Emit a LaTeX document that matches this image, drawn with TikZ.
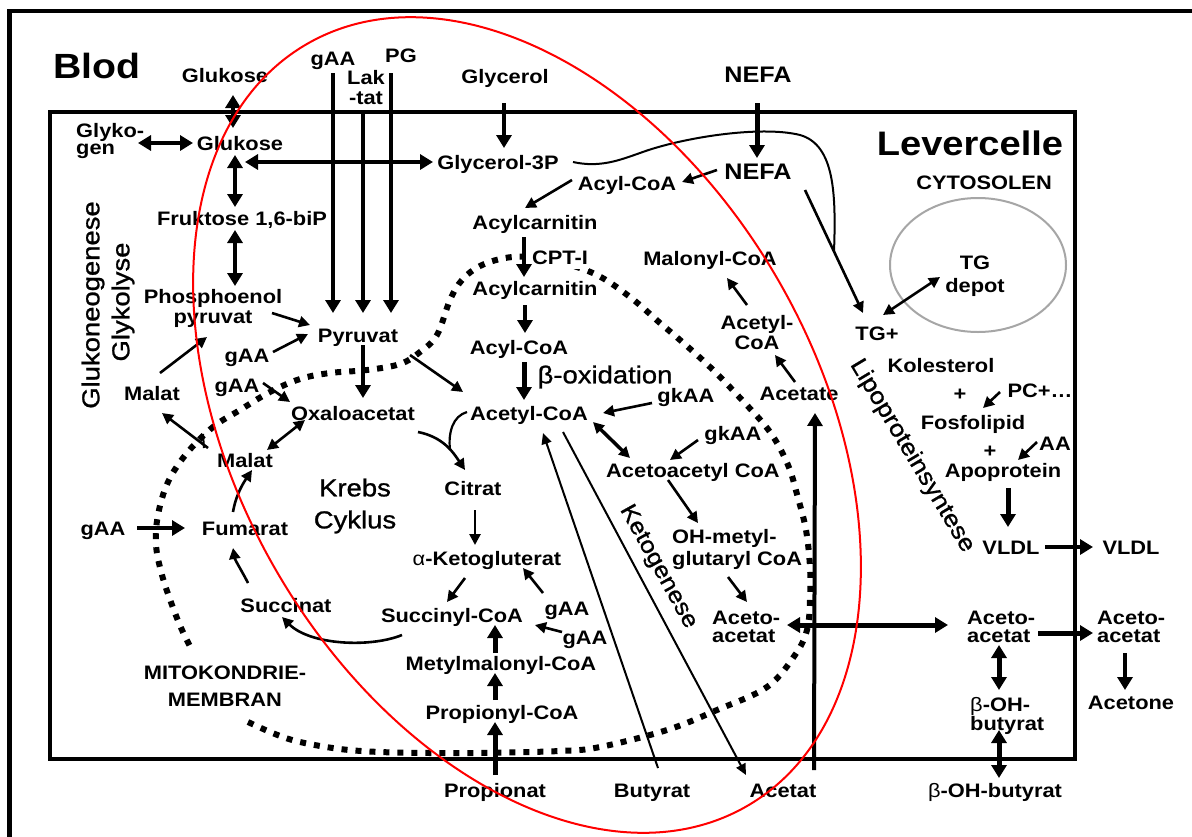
\documentclass[tikz,border=0pt]{standalone}
\usepackage{fontspec}
\setmainfont{Liberation Sans}[FakeStretch=1.12]
\newfontfamily\rgfont{Liberation Sans}[FakeStretch=1.12, FakeBold=1.0]
\usetikzlibrary{arrows.meta}
\newcommand\lbf[1]{\bfseries\fontsize{19.5}{#1}\selectfont}

\begin{document}
\begin{tikzpicture}[x=1pt,y=-1pt,
  lbl/.style={inner sep=0pt, text height=14pt, text depth=4pt, font=\lbf{18}},
  mlbl/.style={inner sep=0pt, font=\lbf{#1}},
  big/.style={inner sep=0pt, font=\rgfont\fontsize{#1}{#1}\selectfont},
  bigb/.style={inner sep=0pt, font=\bfseries\fontsize{#1}{#1}\selectfont},
  thk/.style={line width=4.5pt, -{Triangle[length=13pt,width=15pt]}},
  thkd/.style={line width=4.5pt, {Triangle[length=13pt,width=15pt]}-{Triangle[length=13pt,width=15pt]}},
  med/.style={line width=2.6pt, -{Triangle[length=11pt,width=11pt]}},
  medd/.style={line width=2.6pt, {Triangle[length=11pt,width=11pt]}-{Triangle[length=11pt,width=11pt]}},
  thn/.style={line width=2pt, -{Triangle[length=11pt,width=10pt]}},
  membrane/.style={line width=6pt, dash pattern=on 6pt off 8pt},
]
\useasboundingbox (0,0) rectangle (1192,836);
\fill[white] (0,0) rectangle (1192,836);

% frames: blood (outer) and liver cell (inner)
\draw[line width=4.5pt] (9.5,845) -- (9.5,11) -- (1200,11);
\draw[line width=4pt] (50,112) rectangle (1075,759);

% mitochondrial membrane
\draw[membrane] plot[smooth, tension=0.6] coordinates {
  (248,722) (275,734) (300,742) (340,749) (380,752) (430,753) (480,753)
  (560,751) (600,747) (667,730) (717,710) (767,687) (795,655) (807,630)
  (810,600) (810,567) (806,530) (798,498) (788,465) (770,432) (742,400)
  (710,367) (680,340) (660,323) (630,297) (597,275) (560,262) (530,257)
  (505,258) (480,266) (462,280) (450,300) (437,335) (420,352) (400,364)
  (367,370) (330,373) (300,379) (270,392) (240,410) (213,427) (187,453)
  (168,482) (158,515) (156,545) (162,575) (172,605) (182,630) (193,652)};

% TG depot
\draw[gray!70, line width=2pt] (978,265) ellipse [x radius=88, y radius=67];

% titles
\node[bigb=35, anchor=base west] (blod) at (53,78) {Blod};
\node[bigb=34, anchor=base] (lever) at (970,155) {Levercelle};
\node[lbl] (cyto) at (984,184) {CYTOSOLEN};
\node[big=24.5, rotate=90] (glneo) at (93,305) {Glukoneogenese};
\node[big=24.5, rotate=90] (glyko) at (123,302) {Glykolyse};
\node[big=23.5, rotate=-59] (lipo) at (912,456) {Lipoproteinsyntese};
\node[big=23, rotate=-61] (keto) at (658,567) {Ketogenese};
\node[inner sep=0pt, align=center, font=\rgfont\fontsize{24.5}{32}\selectfont] (krebs) at (355,506) {Krebs\\Cyklus};
\node[mlbl=27, align=center] (mito) at (225,686) {MITOKONDRIE-\\MEMBRAN};

% glucose / gluconeogenesis
\node[lbl] (gluB) at (225,77) {Glukose};
\node[lbl] (glu) at (240,145) {Glukose};
\node[mlbl=17, align=left, anchor=west] (glyk) at (76,140.5) {Glyko-\\gen};
\node[lbl] (fru) at (242,220) {Fruktose 1,6-biP};
\node[mlbl=20, align=center] (pep) at (213,308) {Phosphoenol\\pyruvat};
\node[lbl] (pyr) at (358,337) {Pyruvat};
\node[lbl] (gaa1) at (247,357) {gAA};
\node[lbl] (gaa2) at (237,387) {gAA};
\node[lbl] (malL) at (152,395) {Malat};
\node[lbl] (malI) at (245,462) {Malat};
\node[lbl] (oxa) at (353,415) {Oxaloacetat};
\node[lbl] (gaaT) at (333,60) {gAA};
\node[mlbl=20, align=center] (lak) at (366,88) {Lak\\-tat};
\node[lbl] (pg) at (401,57) {PG};

% fatty acids
\node[lbl] (glyc) at (505,78) {Glycerol};
\node[lbl] (g3p) at (498,164) {Glycerol-3P};
\node[bigb=22.5] (nefaB) at (758,75) {NEFA};
\node[bigb=22.5] (nefa) at (758,172) {NEFA};
\node[lbl] (acyl1) at (627,185) {Acyl-CoA};
\node[lbl] (acar1) at (535,224) {Acylcarnitin};
\node[lbl, fill=white, inner sep=1pt] (cpt) at (560,259) {CPT-I};
\node[lbl] (acar2) at (535,290) {Acylcarnitin};
\node[lbl] (acyl2) at (519,349) {Acyl-CoA};
\node[big=24.5] (boxi) at (605,377) {β-oxidation};
\node[lbl] (acc) at (529,415) {Acetyl-CoA};
\node[lbl] (gk1) at (686,397) {gkAA};
\node[lbl] (gk2) at (733,435) {gkAA};
\node[lbl] (aacoa) at (693,472) {Acetoacetyl CoA};
\node[mlbl=22, align=left, anchor=west] (hmg) at (672,549) {OH-metyl-\\glutaryl CoA};
\node[mlbl=18, align=left, anchor=west] (aacM) at (712,627) {Aceto-\\acetat};
\node[lbl] (acetate) at (799,395) {Acetate};
\node[mlbl=20, align=center] (acc2) at (757,333) {Acetyl-\\CoA};
\node[lbl] (malo) at (710,260) {Malonyl-CoA};

% lipoprotein synthesis
\node[lbl] (tg) at (877,335) {TG+};
\node[mlbl=23, align=center] (tgd) at (975,276) {TG\\depot};
\node[lbl] (kol) at (941,367) {Kolesterol};
\node[lbl] (p1) at (960,395) {+};
\node[lbl] (pc) at (1040,392) {PC+…};
\node[lbl] (fos) at (973,424) {Fosfolipid};
\node[lbl] (p2) at (990,452) {+};
\node[lbl] (aa) at (1055,445) {AA};
\node[lbl] (apo) at (1003,472) {Apoprotein};
\node[lbl] (vl1) at (1011,549) {VLDL};
\node[lbl] (vl2) at (1131,549) {VLDL};

% Krebs cycle
\node[lbl] (cit) at (473,490) {Citrat};
\node[lbl] (akg) at (487,560) {{\mdseries α}-Ketogluterat};
\node[lbl] (sucoa) at (452,617) {Succinyl-CoA};
\node[lbl] (suc) at (286,607) {Succinat};
\node[lbl] (fum) at (245,530) {Fumarat};
\node[lbl] (gaaL) at (103,530) {gAA};
\node[lbl] (gaa3) at (567,610) {gAA};
\node[lbl] (gaa4) at (585,639) {gAA};
\node[lbl] (mmcoa) at (501,665) {Metylmalonyl-CoA};
\node[lbl] (prcoa) at (502,714) {Propionyl-CoA};

% blood side, bottom
\node[lbl] (prop) at (495,792) {Propionat};
\node[lbl] (but) at (652,792) {Butyrat};
\node[lbl] (acet) at (783,792) {Acetat};
\node[lbl] (bhb) at (995,792) {{\mdseries β}-OH-butyrat};
\node[mlbl=18, align=left, anchor=west] (bhbI) at (970,716) {{\mdseries β}-OH-\\butyrat};
\node[mlbl=18, align=left, anchor=west] (aacC) at (967,627) {Aceto-\\acetat};
\node[mlbl=18, align=left, anchor=west] (aacO) at (1097,627) {Aceto-\\acetat};
\node[lbl] (acetone) at (1131,704) {Acetone};

% ---- connectors ----
% glucose axis
\draw[thkd] ([shift={(8,18)}]gluB.center) -- ([shift={(-7,-17)}]glu.center);
\draw[thkd, line width=3.5pt] ([shift={(62,2.5)}]glyk.west) -- ([shift={(-47,-2)}]glu.center);
\draw[thkd, line width=3.5pt] ([shift={(5,17)}]glu.center) -- ([shift={(-65,-2)}]g3p.center);
\draw[thkd] ([shift={(-5,10)}]glu.center) -- ([shift={(-7,-13)}]fru.center);
\draw[thkd] ([shift={(-7,10)}]fru.center) -- ([shift={(22,-22)}]pep.center);

% into pyruvate
\draw[thk, line width=4pt] ([shift={(0,13)}]gaaT.center) -- ([shift={(-25,-24)}]pyr.center);
\draw[thk, line width=4pt] ([shift={(-3,24)}]lak.center) -- ([shift={(5,-24)}]pyr.center);
\draw[thk, line width=4pt] ([shift={(-10,16)}]pg.center) -- ([shift={(33,-24)}]pyr.center);
\draw[med] ([shift={(59,5)}]pep.center) -- ([shift={(-48,-12)}]pyr.center);
\draw[med] ([shift={(26,-5)}]gaa1.center) -- ([shift={(-50,-3)}]pyr.center);
\draw[med] ([shift={(26,-4)}]gaa2.center) -- ([shift={(-63,-13)}]oxa.center);
\draw[med] ([shift={(8,-22)}]malL.center) -- ([shift={(-6,29)}]pep.center);
\draw[med] ([shift={(-37,-14)}]malI.center) -- ([shift={(10,18)}]malL.center);
\draw[line width=2pt] ([shift={(-42,-28)}]malI.center) -- ([shift={(-41,-14)}]malI.center);
\draw[medd] ([shift={(22,-12)}]malI.center) -- ([shift={(-48,5)}]oxa.center);
\draw[thk, line width=4pt] ([shift={(5,8)}]pyr.center) -- ([shift={(10,-17)}]oxa.center);
\draw[med] ([shift={(52,18)}]pyr.center) -- ([shift={(-66,-23)}]acc.center);

% fatty acid oxidation
\draw[thk, line width=4pt] ([shift={(-1,25)}]glyc.center) -- ([shift={(6,-16)}]g3p.center);
\draw[thk, line width=5pt] ([shift={(-1,28)}]nefaB.center) -- ([shift={(-1,-14)}]nefa.center);
\draw[med] ([shift={(-41,-2)}]nefa.center) -- ([shift={(55,-3)}]acyl1.center);
\draw[med] ([shift={(-55,-5)}]acyl1.center) -- ([shift={(-10,-16)}]acar1.center);
\draw[thk, line width=4pt] ([shift={(-11,13)}]acar1.center) -- ([shift={(-11,-13)}]acar2.center);
\draw[thk, line width=4pt] ([shift={(-10,15)}]acar2.center) -- ([shift={(6,-16)}]acyl2.center);
\draw[thk, line width=5pt] ([shift={(5,13)}]acyl2.center) -- ([shift={(-5,-15)}]acc.center);
\draw[med] ([shift={(-34,6)}]gk1.center) -- ([shift={(74,-2)}]acc.center);
\draw[medd, line width=3.5pt] ([shift={(64,7)}]acc.center) -- ([shift={(-63,-14)}]aacoa.center);
\draw[med] ([shift={(-35,5)}]gk2.center) -- ([shift={(-23,-12)}]aacoa.center);
\draw[med] ([shift={(-25,8)}]aacoa.center) -- ([shift={(26,-26)}]hmg.west);
\draw[med] ([shift={(56,28)}]hmg.west) -- ([shift={(35,-25)}]aacM.west);
\draw[thkd, line width=5pt] ([shift={(75,-2)}]aacM.west) -- ([shift={(-19,-2)}]aacC.west);
\draw[thk, line width=4pt] ([shift={(31,-22)}]acet.center) -- ([shift={(16,18)}]acetate.center);
\draw[med] ([shift={(-4,-13)}]acetate.center) -- ([shift={(18,22)}]acc2.center);
\draw[med] ([shift={(-10,-28)}]acc2.center) -- ([shift={(17,18)}]malo.center);

% triglyceride and VLDL
\draw[med] ([shift={(47,18)}]nefa.center) -- ([shift={(-14,-22)}]tg.center);
\coordinate (tgjoin) at (834,252);
\draw[line width=2pt] ([shift={(75,-2)}]g3p.center) .. controls (600,168) and (620,160) .. (640,153)
  .. controls (680,138) and (760,125) .. (800,135) .. controls (835,145) and (836,195) .. (tgjoin);
\draw[medd] ([shift={(6,-20)}]tg.center) -- ([shift={(-35,1)}]tgd.center);
\draw[med] ([shift={(-40,0)}]pc.center) -- ([shift={(10,-16)}]fos.center);
\draw[med] ([shift={(-18,-3)}]aa.center) -- ([shift={(15,-12)}]apo.center);
\draw[thk, line width=5pt] ([shift={(5,16)}]apo.center) -- ([shift={(-3,-22)}]vl1.center);
\draw[thk] ([shift={(34,-2)}]vl1.center) -- ([shift={(-38,-2)}]vl2.center);

% ketone bodies
\draw[thk, line width=5pt] ([shift={(71,6)}]aacC.west) -- ([shift={(-4,6)}]aacO.west);
\draw[thk, line width=4pt] ([shift={(28,26)}]aacO.west) -- ([shift={(-6,-14)}]acetone.center);
\draw[thkd, line width=5pt] ([shift={(32,18)}]aacC.west) -- ([shift={(29,-26)}]bhbI.west);
\draw[thkd, line width=5pt] ([shift={(29,14)}]bhbI.west) -- ([shift={(4,-14)}]bhb.center);

% propionate route
\draw[thk, line width=5pt] ([shift={(0,-17)}]prop.center) -- ([shift={(-7,8)}]prcoa.center);
\draw[thk, line width=5pt] ([shift={(-7,-14)}]prcoa.center) -- ([shift={(-6,8)}]mmcoa.center);
\draw[thk, line width=5pt] ([shift={(-6,-12)}]mmcoa.center) -- ([shift={(43,8)}]sucoa.center);
\draw[med] ([shift={(-23,-7)}]gaa4.center) -- ([shift={(83,8)}]sucoa.center);
\draw[med] ([shift={(-24,-17)}]gaa3.center) -- ([shift={(36,8)}]akg.center);

% Krebs cycle
\draw[med] ([shift={(-22,18)}]akg.center) -- ([shift={(-5,-15)}]sucoa.center);
\draw[med] ([shift={(2,20)}]cit.center) -- ([shift={(-12,-15)}]akg.center);
\draw[med] ([shift={(65,17)}]oxa.center) .. controls +(25,5) and +(-12,-18) .. ([shift={(-8,-20)}]cit.center);
\coordinate (cjoin) at (450,450);
\draw[line width=2.2pt] ([shift={(-62,-3)}]acc.center) .. controls +(-14,4) and +(-2,-18) .. (cjoin);
\draw[med] ([shift={(-50,18)}]sucoa.center) .. controls +(-32,13) and +(28,28) .. ([shift={(-4,10)}]suc.center);
\draw[med] ([shift={(-38,-24)}]suc.center) .. controls +(-5,-10) and +(2,12) .. ([shift={(-12,18)}]fum.center);
\draw[med] ([shift={(-12,-18)}]fum.center) .. controls +(3,-18) and +(-8,12) .. ([shift={(7,8)}]malI.center);
\draw[thk] ([shift={(34,-2)}]gaaL.center) -- ([shift={(-60,-2)}]fum.center);

% short-chain fatty acids
\draw[thn] ([shift={(6,-24)}]but.center) -- ([shift={(14,18)}]acc.center);
\draw[thn] ([shift={(34,17)}]acc.center) -- ([shift={(-37,-17)}]acet.center);

% highlighted region
\begin{scope}[shift={(527,425)}, rotate=30]
  \draw[red, line width=2pt] (0,0) ellipse [x radius=290, y radius=440];
\end{scope}
\end{tikzpicture}
\end{document}
